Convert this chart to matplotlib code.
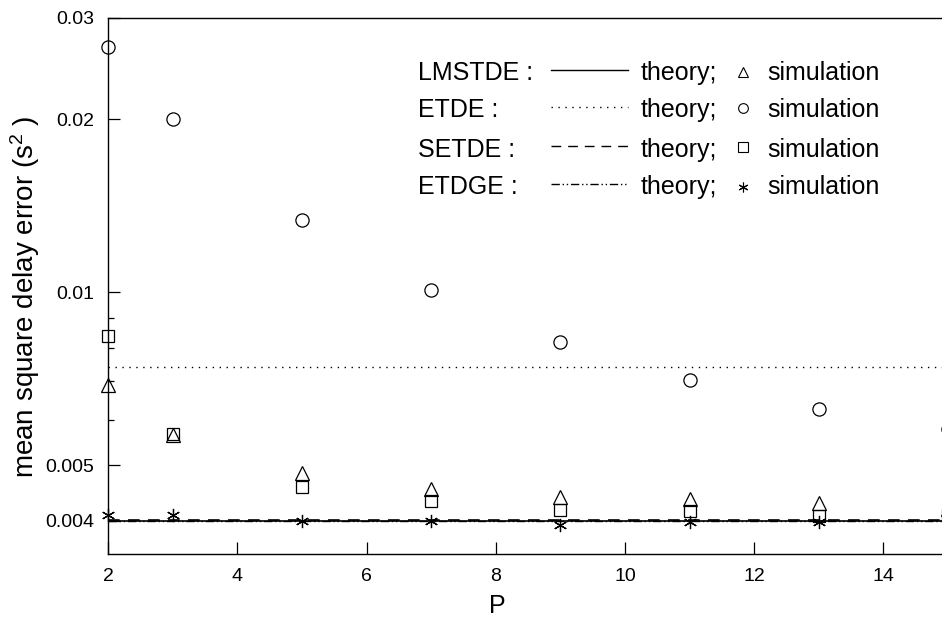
import numpy as np
import matplotlib
matplotlib.use('Agg')
import matplotlib.pyplot as plt
from matplotlib.lines import Line2D
from matplotlib.ticker import FixedLocator, NullFormatter

plt.rcParams['font.family'] = ['Liberation Sans', 'DejaVu Sans']
plt.rcParams['mathtext.fontset'] = 'custom'
plt.rcParams['mathtext.rm'] = 'Liberation Sans'
plt.rcParams['mathtext.default'] = 'regular'

# filter length P and mean square delay error
P = [2, 3, 5, 7, 9, 11, 13, 15]
etde_sim = [0.0267, 0.0200, 0.01335, 0.0101, 0.00819, 0.00703, 0.00626, 0.00578]
lmstde_sim = [0.00688, 0.00564, 0.00485, 0.00454, 0.00440, 0.00436, 0.00429, 0.00420]
setde_sim = [0.00838, 0.00567, 0.00457, 0.00433, 0.00418, 0.00416, 0.00408, 0.00410]
etdge_sim = [0.00410, 0.00409, 0.00400, 0.00400, 0.00393, 0.00398, 0.00398, 0.00398]

# theoretical values (independent of P)
lmstde_theory = 0.00399
etde_theory = 0.0074
setde_theory = 0.00401
etdge_theory = 0.00400

yticks = [0.004, 0.005, 0.01, 0.02, 0.03]
ytick_labels = ['0.004', '0.005', '0.01', '0.02', '0.03']
yminor = [0.006, 0.007, 0.008, 0.009]
xticks = [2, 4, 6, 8, 10, 12, 14]

names = ['LMSTDE :', 'ETDE :', 'SETDE :', 'ETDGE :']

dotted = (0, (1, 4))
dashed = (0, (7, 5))
dashdotdot = (0, (6, 2, 1, 2, 1, 2))
asterisk = (6, 2, 0)

W, H = 942, 618
xspan = 13.5
fig = plt.figure(figsize=(W / 100, H / 100), dpi=100)
# axes runs past the right edge of the figure
ax = fig.add_axes([108.3 / W, 1 - 554 / H, xspan * 64.6 / W, 536 / H])

ax.axhline(lmstde_theory, color='black', lw=1.2, ls='-')
ax.axhline(etde_theory, color='black', lw=1.0, ls=dotted)
ax.axhline(setde_theory, color='black', lw=1.2, ls=dashed)
ax.axhline(etdge_theory, color='black', lw=1.0, ls=dashdotdot)

mk = dict(ls='none', mfc='none', mec='black', mew=0.9, clip_on=False, zorder=3)
ax.plot(P, etde_sim, marker='o', ms=9.5, **mk)
ax.plot(P, setde_sim, marker='s', ms=8.5, **mk)
ax.plot(P, lmstde_sim, marker='^', ms=10.5, **mk)
ax.plot(P, etdge_sim, marker=asterisk, ms=9.5, **mk)

ax.set_yscale('log')
ax.yaxis.set_major_locator(FixedLocator(yticks))
ax.set_yticklabels(ytick_labels)
ax.yaxis.set_minor_locator(FixedLocator(yminor))
ax.yaxis.set_minor_formatter(NullFormatter())
ax.set_xticks(xticks)
ax.set_ylim(0.0035, 0.03)
ax.set_xlim(2, 2 + xspan)
ax.tick_params(which='major', direction='in', length=8.5, width=0.9,
               labelsize=14, pad=10)
ax.tick_params(which='minor', direction='in', length=4.3, width=0.9)
ax.tick_params(axis='x', which='minor', bottom=False)
for s in ax.spines.values():
    s.set_linewidth(1.0)
ax.spines['right'].set_visible(False)

ax.set_xlabel('P', fontsize=18)
ax.xaxis.set_label_coords((497 - 108.3) / (xspan * 64.6), -0.075)
ax.set_ylabel('mean square delay error (s$^2$ )', fontsize=20)
ax.yaxis.set_label_coords(-(108.3 - 42) / (xspan * 64.6), 0.48)

# legend drawn as text rows
row_base = [80, 117.3, 156.5, 194]
row_line = [69.5, 106.7, 146, 183.5]
row_mark = [71.5, 108.3, 147.3, 186.5]
styles = ['-', dotted, dashed, dashdotdot]
markers = ['^', 'o', 's', asterisk]
for i in range(4):
    yb = 1 - row_base[i] / H
    yl = 1 - row_line[i] / H
    ym = 1 - row_mark[i] / H
    fig.text(418 / W, yb, names[i], fontsize=18, va='baseline')
    fig.add_artist(Line2D([551 / W, 628 / W], [yl, yl], color='black',
                          lw=1.0, ls=styles[i]))
    fig.text(641 / W, yb, 'theory;', fontsize=18, va='baseline')
    fig.add_artist(Line2D([743 / W], [ym], marker=markers[i], ms=7,
                          mfc='none', mec='black', mew=0.8, ls='none'))
    fig.text(767 / W, yb, 'simulation', fontsize=18, va='baseline')

fig.savefig('out.png', dpi=100)
